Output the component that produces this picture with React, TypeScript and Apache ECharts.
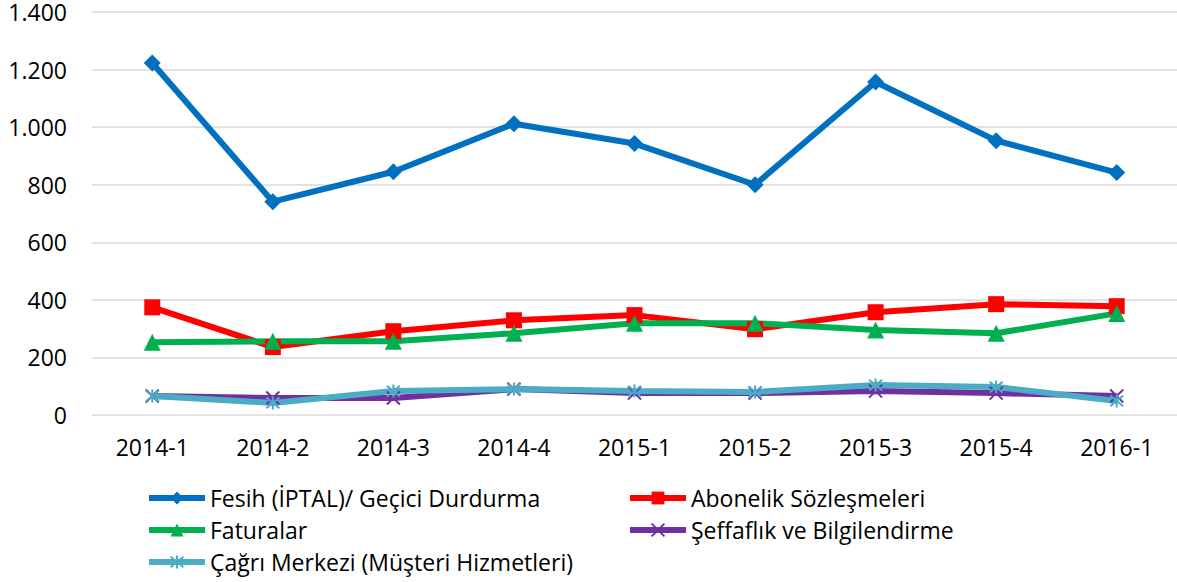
import React, { useEffect, useRef } from "react";
import * as echarts from "echarts";

const categories = ["2014-1", "2014-2", "2014-3", "2014-4", "2015-1", "2015-2", "2015-3", "2015-4", "2016-1"];
const fesih = [1223, 741, 845, 1012, 943, 800, 1157, 953, 842];
const abonelik = [374, 236, 291, 329, 347, 298, 357, 385, 378];
const faturalar = [253, 256, 256, 284, 319, 319, 295, 284, 353];
const seffaflik = [66, 59, 59, 90, 76, 76, 83, 76, 66];
const cagri = [66, 42, 83, 90, 83, 80, 104, 97, 49];

const names = [
  "Fesih (İPTAL)/ Geçici Durdurma",
  "Abonelik Sözleşmeleri",
  "Faturalar",
  "Şeffaflık ve Bilgilendirme",
  "Çağrı Merkezi (Müşteri Hizmetleri)",
];

const FONT = "'Open Sans', 'Liberation Sans', sans-serif";
const X_SYMBOL = "path://M0,0 L10,10 M10,0 L0,10";
const STAR_SYMBOL = "path://M0,0 L10,10 M10,0 L0,10 M5,-1 L5,11";

function fmt(v: number): string {
  const s = String(Math.round(v));
  return s.replace(/\B(?=(\d{3})+(?!\d))/g, ".");
}

export default function App() {
  const ref = useRef<HTMLDivElement>(null);
  useEffect(() => {
    document.body.style.margin = "0";
    if (!ref.current) return;
    const chart = echarts.init(ref.current, null, { renderer: "svg" });
    const mk = (name: string, data: number[], color: string, symbol: string, size: number, stroke: boolean) => ({
      name,
      type: "line",
      data,
      symbol,
      symbolSize: size,
      showSymbol: true,
      lineStyle: { color, width: 6 },
      itemStyle: stroke
        ? { color, borderColor: color, borderWidth: 2 }
        : { color, borderWidth: 0 },
      z: 2,
    });
    const legendPos: [number, number, number][] = [
      [0, 146, 498],
      [1, 627, 498],
      [2, 146, 530],
      [3, 627, 530],
      [4, 146, 562],
    ];
    chart.setOption({
      animation: false,
      textStyle: { fontFamily: FONT },
      grid: { left: 92, right: 0, top: 12, bottom: 167, containLabel: false },
      xAxis: {
        type: "category",
        data: categories,
        boundaryGap: true,
        axisLine: { show: false },
        axisTick: { show: false },
        axisLabel: { color: "#000", fontSize: 23, fontFamily: FONT, margin: 20 },
        splitLine: { show: false },
      },
      yAxis: {
        type: "value",
        min: 0,
        max: 1400,
        interval: 200,
        axisLine: { show: false },
        axisTick: { show: false },
        axisLabel: { color: "#000", fontSize: 23, lineHeight: 22, fontFamily: FONT, margin: 25, formatter: (v: number) => fmt(v) },
        splitLine: { lineStyle: { color: "#D9D9D9", width: 1.5 } },
      },
      legend: legendPos.map(([i, x, y]) => ({
        orient: "horizontal",
        left: x,
        top: y - 14,
        padding: 0,
        itemWidth: 56,
        itemHeight: 16,
        itemGap: 0,
        data: [names[i]],
        lineStyle: { width: 6 },
        textStyle: { color: "#000", fontSize: 23, fontFamily: FONT, lineHeight: 28 },
      })),
      series: [
        mk(names[0], fesih, "#0070C0", "diamond", 17, false),
        mk(names[1], abonelik, "#FF0000", "rect", 16, false),
        mk(names[2], faturalar, "#00B050", "triangle", 17, false),
        mk(names[3], seffaflik, "#7030A0", X_SYMBOL, 13, true),
        mk(names[4], cagri, "#4BACC6", STAR_SYMBOL, 13, true),
      ],
    });
    return () => chart.dispose();
  }, []);
  return <div ref={ref} style={{ width: 1177, height: 582 }} />;
}
